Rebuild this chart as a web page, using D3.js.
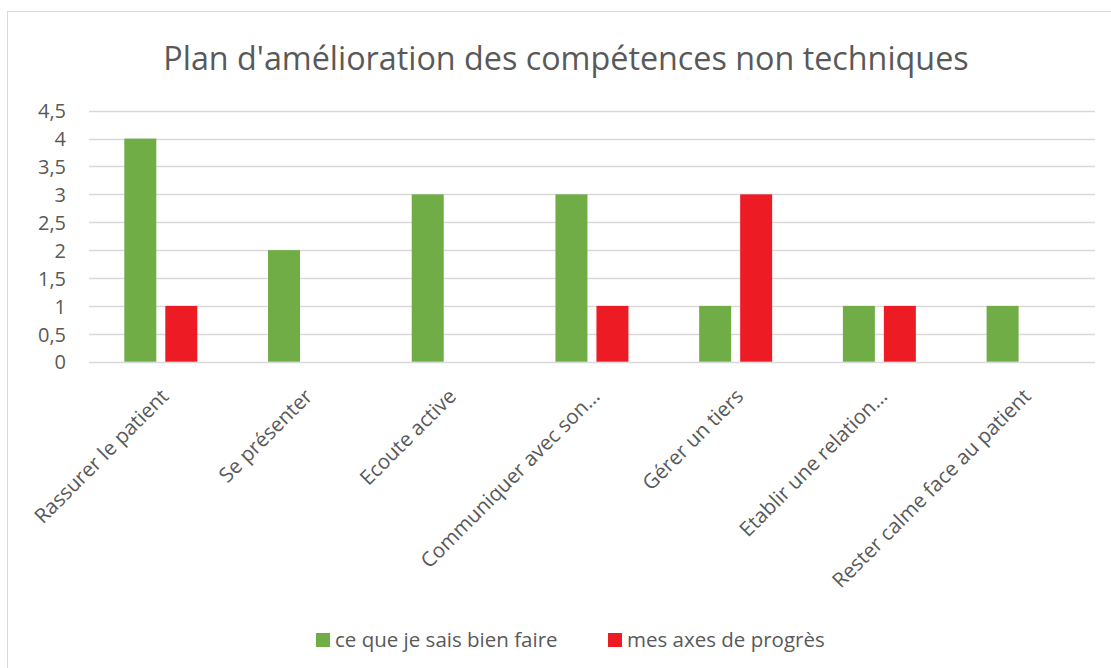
<!DOCTYPE html>
<html>
<head>
<meta charset="utf-8">
<script src="https://cdn.jsdelivr.net/npm/d3@7"></script>
<style>
  html, body { margin: 0; padding: 0; background: #fff; }
  svg text { font-family: "Open Sans", "Noto Sans", sans-serif; fill: #595959; }
</style>
</head>
<body>
<svg id="chart" width="1111" height="668"></svg>
<script>
// Chart data
const title = "Plan d'amélioration des compétences non techniques";
const categories = [
  "Rassurer le patient",
  "Se présenter",
  "Ecoute active",
  "Communiquer avec son…",
  "Gérer un tiers",
  "Etablir une relation…",
  "Rester calme face au patient"
];
const seriesNames = ["ce que je sais bien faire", "mes axes de progrès"];
const seriesColors = ["#70AD47", "#ED1C24"];
const savoirFaire = [4, 2, 3, 3, 1, 1, 1];
const axesProgres = [1, 0, 0, 1, 3, 1, 0];
const yTicks = [0, 0.5, 1, 1.5, 2, 2.5, 3, 3.5, 4, 4.5];

const svg = d3.select("#chart");

// Chart frame (only the top and left edges fall inside the page)
svg.append("rect")
  .attr("x", 7.5).attr("y", 11.5)
  .attr("width", 1200).attr("height", 700)
  .attr("fill", "#fff").attr("stroke", "#D9D9D9").attr("stroke-width", 1);

const plot = { left: 89, right: 1095, top: 110.7, bottom: 361.7 };

const x = d3.scaleBand().domain(categories).range([plot.left, plot.right]).padding(0);
const bw = x.bandwidth();
const xs = d3.scaleBand().domain(seriesNames)
  .range([bw * 0.2457, bw * 0.7535]).paddingInner(0.2195).paddingOuter(0);
const y = d3.scaleLinear().domain([0, 4.5]).range([plot.bottom, plot.top]);

const fr = d3.formatLocale({ decimal: ",", thousands: " ", grouping: [3], currency: ["", " €"] });
const fmt = v => fr.format("~g")(v);

// Value axis labels
const yAxis = d3.axisLeft(y).tickValues(yTicks).tickFormat(fmt).tickSize(0).tickPadding(0);
const gy = svg.append("g").attr("transform", `translate(${plot.left},0)`).call(yAxis);
gy.select(".domain").remove();
gy.selectAll("text").attr("font-size", 20).attr("x", -23).attr("dy", "0.36em")
  .style("font-family", "'Open Sans', sans-serif").attr("fill", "#595959");

// Gridlines
svg.append("g").selectAll("line").data(yTicks).join("line")
  .attr("x1", plot.left).attr("x2", plot.right)
  .attr("y1", d => Math.round(y(d)) + 0.5).attr("y2", d => Math.round(y(d)) + 0.5)
  .attr("stroke", "#D9D9D9").attr("stroke-width", 1.3);

// Bars
const rows = categories.map((c, i) => ({ cat: c, values: [savoirFaire[i], axesProgres[i]] }));
const groups = svg.append("g").selectAll("g").data(rows).join("g")
  .attr("transform", d => `translate(${x(d.cat)},0)`);
groups.selectAll("rect")
  .data(d => d.values.map((v, j) => ({ key: seriesNames[j], v, j })).filter(e => e.v > 0))
  .join("rect")
  .attr("x", e => xs(e.key))
  .attr("width", xs.bandwidth())
  .attr("y", e => y(e.v))
  .attr("height", e => y(0) - y(e.v))
  .attr("fill", e => seriesColors[e.j]);

// Category axis labels, rotated
const xAxis = d3.axisBottom(x).tickSize(0).tickPadding(0);
const gx = svg.append("g").attr("transform", `translate(0,${plot.bottom})`).call(xAxis);
gx.select(".domain").remove();
gx.selectAll("text")
  .attr("font-size", 20.5)
  .style("font-family", "'Open Sans', sans-serif")
  .attr("fill", "#595959")
  .attr("text-anchor", "end")
  .attr("y", 0).attr("dy", 0)
  .attr("transform", "translate(9,36) rotate(-45)");

// Title
svg.append("text")
  .attr("x", 566).attr("y", 70)
  .attr("text-anchor", "middle")
  .attr("font-size", 32.3)
  .text(title);

// Legend
const legend = svg.append("g");
const legendX = [316, 608];
seriesNames.forEach((name, i) => {
  const g = legend.append("g").attr("transform", `translate(${legendX[i]},633)`);
  g.append("rect").attr("width", 14).attr("height", 14).attr("fill", seriesColors[i]);
  g.append("text").attr("x", 19).attr("y", 14).attr("font-size", 20.5).text(name);
});
</script>
</body>
</html>
